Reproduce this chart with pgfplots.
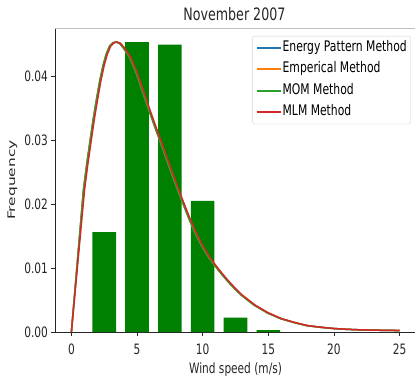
\documentclass[border=0pt]{standalone}
\usepackage{fontspec}
\setmainfont{DejaVu Sans}[FakeStretch=0.74]
\newfontfamily\ylabfont{DejaVu Sans}[FakeStretch=1.48]
\usepackage{pgfplots}
\usepackage{pgfplotstable}
\pgfplotsset{compat=1.18}
\definecolor{mplblue}{HTML}{1F77B4}
\definecolor{mplorange}{HTML}{FF7F0E}
\definecolor{mplgreen}{HTML}{2CA02C}
\definecolor{mplred}{HTML}{D62728}
\definecolor{bargreen}{HTML}{008000}

\pgfplotstableread{
x y
2.5 0.0156
5.0 0.0453
7.5 0.0449
10.0 0.0205
12.5 0.00224
15.0 0.0003
}\bars

\pgfplotstableread{
x y
0 0
1.0 0.0222
1.25 0.0262
1.5 0.0298
1.75 0.0333
2.0 0.0364
2.25 0.0393
2.5 0.0417
2.75 0.0435
3.0 0.0447
3.25 0.0452
3.5 0.0453
3.75 0.0451
4.0 0.0445
4.5 0.0430
5.0 0.0406
5.5 0.0376
6.0 0.0346
6.5 0.0317
7.0 0.0289
7.5 0.0260
8.0 0.0232
8.5 0.0205
9.0 0.0179
9.5 0.0155
10.0 0.0135
10.5 0.0118
11.0 0.0104
11.5 0.0091
12.0 0.0079
12.5 0.0068
13.0 0.0058
14.0 0.0042
15.0 0.0030
16.0 0.0021
17.0 0.0015
18.0 0.0010
19.0 0.00075
20.0 0.00055
21.0 0.00042
22.0 0.00034
23.0 0.00029
24.0 0.00026
25.0 0.00024
}\mlm

\pgfplotstableread{
x y
0 0
0.92 0.0222
1.17 0.0262
1.42 0.0298
1.67 0.0333
1.92 0.0364
2.17 0.0393
2.42 0.0417
2.67 0.0435
2.92 0.0447
3.17 0.0452
3.42 0.0453
3.67 0.0451
3.92 0.0445
4.42 0.0430
4.92 0.0406
5.42 0.0376
5.92 0.0346
6.42 0.0317
6.92 0.0289
7.42 0.0260
7.92 0.0232
8.42 0.0205
8.92 0.0179
9.42 0.0155
9.92 0.0135
10.42 0.0118
10.92 0.0104
11.42 0.0091
11.92 0.0079
12.42 0.0068
12.92 0.0058
13.92 0.0042
14.92 0.0030
15.92 0.0021
16.92 0.0015
17.92 0.0010
18.92 0.00075
19.92 0.00055
20.92 0.00042
21.92 0.00034
22.92 0.00029
23.92 0.00026
25.0 0.00022
}\mom

\begin{document}
\begin{tikzpicture}
\begin{axis}[
  scale only axis,
  width=361pt, height=304pt,
  xmin=-1.25, xmax=26.25,
  ymin=0, ymax=0.0475,
  axis x line*=bottom, axis y line*=left,
  axis line style={black!85, line width=0.8pt},
  tick align=outside,
  major tick length=3.5pt,
  every tick/.style={black!85, line width=0.8pt},
  xtick={0,5,10,15,20,25},
  ytick={0,0.01,0.02,0.03,0.04},
  scaled y ticks=false,
  yticklabel style={/pgf/number format/fixed, /pgf/number format/precision=2, /pgf/number format/fixed zerofill},
  /pgf/number format/assume math mode=true,
  tick label style={font=\fontsize{14.3}{15}\selectfont, black!85},
  xticklabel style={yshift=-5pt},
  xlabel={Wind speed (m/s)},
  ylabel={\ylabfont Frequency},
  label style={font=\fontsize{14.3}{15}\selectfont, black!85},
  xlabel style={at={(axis description cs:0.5,-0.124)}, anchor=center},
  ylabel style={at={(axis description cs:-0.118,0.5)}, anchor=center, font=\fontsize{10.4}{12}\selectfont},
  title={November 2007},
  every axis title shift=0pt,
  title style={at={(axis description cs:0.497,1.046)}, anchor=center, font=\fontsize{17.1}{18}\selectfont, black!85},
  legend style={at={(rel axis cs:0.986,0.974)}, anchor=north east, draw=black!18, rounded corners=2pt, fill=white, fill opacity=0.8, text opacity=1, font=\fontsize{14.6}{15}\selectfont, row sep=5.3pt, inner xsep=3pt, inner ysep=4pt, legend cell align=left,
    nodes={inner sep=1pt, text height=10.5pt, text depth=3.5pt}},
  legend image code/.code={\draw[#1, line width=2pt] (0pt,0pt) -- (24pt,0pt);},
]
\addplot[ybar, bar width=1.8, bar shift=0pt, fill=bargreen, draw=none, forget plot] table[x=x,y=y] {\bars};
\addplot[mplblue, line width=1.5pt] table[x=x,y=y] {\mom};
\addplot[mplorange, line width=1.5pt] table[x=x,y=y] {\mom};
\addplot[mplgreen, line width=1.5pt] table[x=x,y=y] {\mom};
\addplot[mplred, line width=1.5pt] table[x=x,y=y] {\mlm};
\legend{Energy Pattern Method, Emperical Method, MOM Method, MLM Method}
\draw[black!25, line width=0.8pt] (rel axis cs:0,1) -- (rel axis cs:1,1);
\end{axis}
\pgfresetboundingbox
\path[use as bounding box] (-55pt,-49pt) rectangle (360pt,332pt);
\end{tikzpicture}
\end{document}
